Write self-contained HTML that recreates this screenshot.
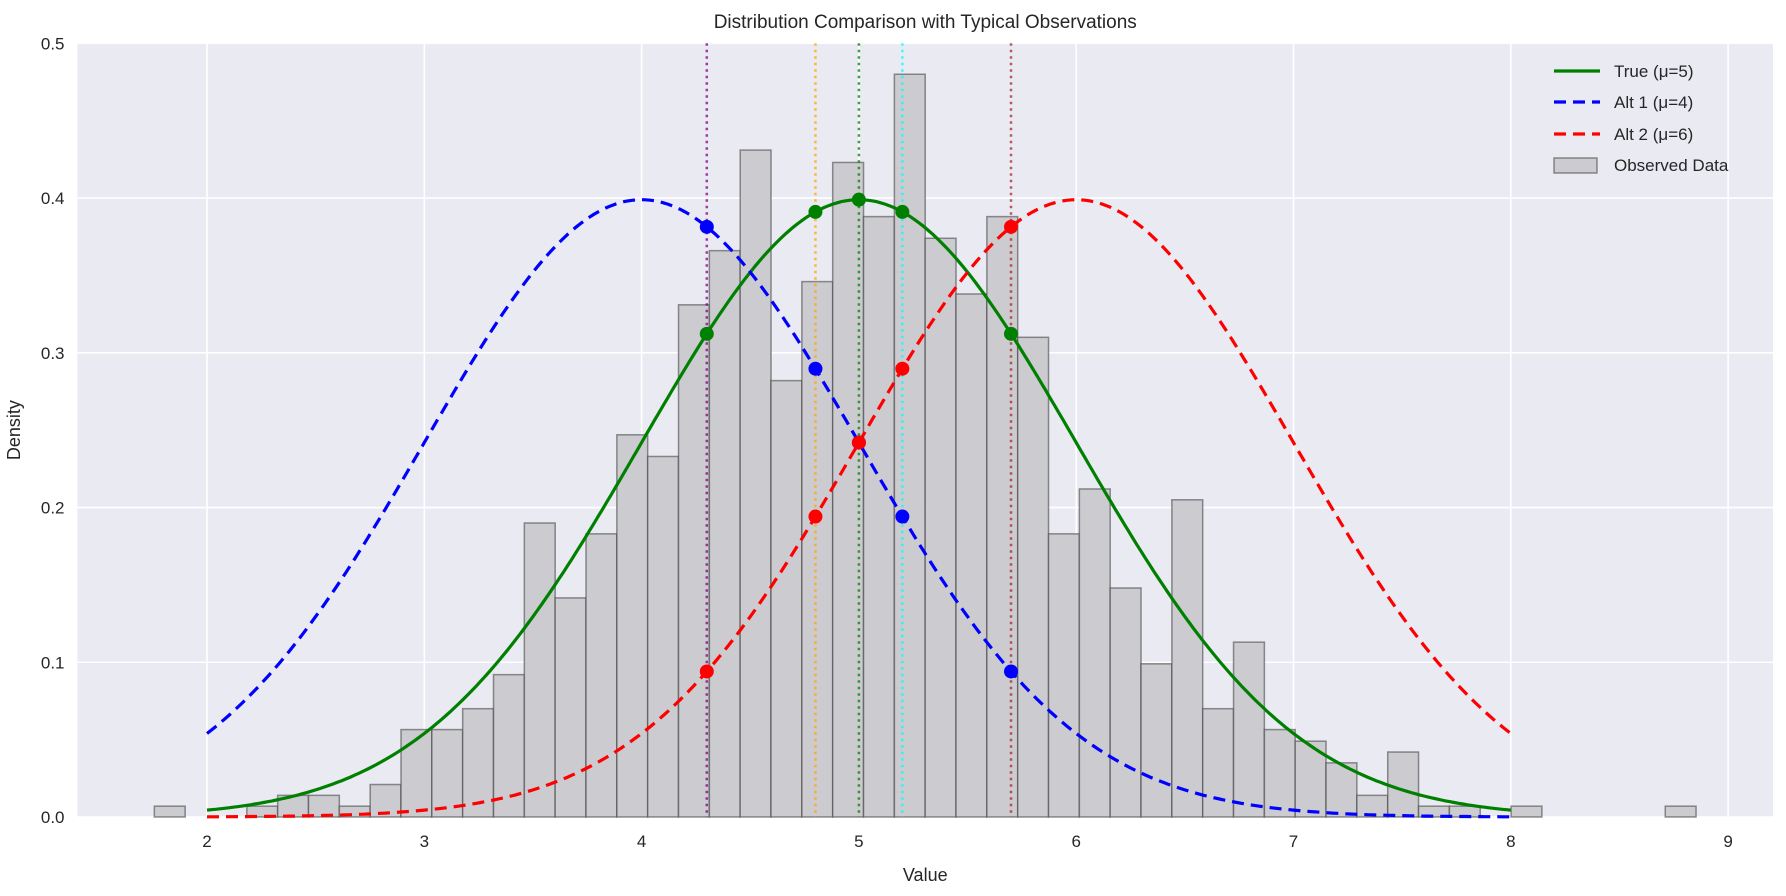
<!DOCTYPE html>
<html><head><meta charset="utf-8"><style>
html,body{margin:0;padding:0;background:#fff;}
svg{display:block;font-family:"Liberation Sans","DejaVu Sans",sans-serif;}
</style></head><body>
<svg id="chart" width="1786" height="896" viewBox="0 0 1786 896" xmlns="http://www.w3.org/2000/svg"></svg>
<script>
const binStart = 1.7576;
const binWidth = 0.1419;
const binDensities = [0.007,0,0,0.007,0.014,0.014,0.007,0.021,0.0565,0.0565,0.070,0.092,0.190,0.1416,0.183,0.247,0.233,0.331,0.366,0.431,0.282,0.346,0.423,0.388,0.480,0.374,0.338,0.388,0.310,0.183,0.212,0.148,0.099,0.205,0.070,0.113,0.0565,0.049,0.035,0.014,0.042,0.007,0.007,0,0.007,0,0,0,0,0.007];
const curveMeans = [5,4,6];
const curveNames = ["True (μ=5)","Alt 1 (μ=4)","Alt 2 (μ=6)"];
const curveColors = ["#008000","#0000ff","#ff0000"];
const curveRange = [2,8];
const observations = [4.3,4.8,5.0,5.2,5.7];
const obsColors = ["#800080","#ffa500","#008000","#00ffff","#a52a2a"];
const xTicks = [2,3,4,5,6,7,8,9];
const yTicks = [0.0,0.1,0.2,0.3,0.4,0.5];

const NS="http://www.w3.org/2000/svg";
const svg=document.getElementById('chart');
const L=77.5,R=1773,T=43.3,B=817;
const X0=207,XU=217.3;
function xs(v){return X0+(v-2)*XU;}
function ys(v){return B-(v/0.5)*(B-T);}
function mk(tag,attrs,parent){const e=document.createElementNS(NS,tag);for(const k in attrs)e.setAttribute(k,attrs[k]);(parent||svg).appendChild(e);return e;}
function pdf(x,m){return Math.exp(-0.5*(x-m)*(x-m))/Math.sqrt(2*Math.PI);}

let bg=mk('rect',{x:L,y:T,width:R-L,height:B-T,fill:'#eaeaf2'});


xTicks.forEach(t=>{
  let g=mk('line',{x1:xs(t),x2:xs(t),y1:T,y2:B,stroke:'#fff','stroke-width':1.6});
  
  
  let tx=mk('text',{x:xs(t),y:B+30,'text-anchor':'middle','font-size':17,fill:'#262626'});
  tx.textContent=t;
  
  
});
yTicks.forEach(t=>{
  let g=mk('line',{x1:L,x2:R,y1:ys(t),y2:ys(t),stroke:'#fff','stroke-width':1.6});
  
  
  let tx=mk('text',{x:L-13,y:ys(t)+6,'text-anchor':'end','font-size':17,fill:'#262626'});
  tx.textContent=t.toFixed(1);
  
  
});
binDensities.forEach((d,i)=>{
  if(d<=0)return;
  const x1=xs(binStart+i*binWidth),x2=xs(binStart+(i+1)*binWidth);
  let r=mk('rect',{x:x1,y:ys(d),width:x2-x1,height:B-ys(d),fill:'#cccbd0',stroke:'rgba(60,60,60,0.55)','stroke-width':1.5});
  
  
});
observations.forEach((o,i)=>{
  let l=mk('line',{x1:xs(o),x2:xs(o),y1:T,y2:B,stroke:obsColors[i],'stroke-width':2.5,'stroke-dasharray':'2.5,4','stroke-opacity':0.75});
  
  
});
curveMeans.forEach((m,ci)=>{
  let pts=[];
  for(let k=0;k<=300;k++){const x=curveRange[0]+(curveRange[1]-curveRange[0])*k/300;pts.push(xs(x).toFixed(1)+','+ys(pdf(x,m)).toFixed(1));}
  let p=mk('polyline',{points:pts.join(' '),fill:'none',stroke:curveColors[ci],'stroke-width':3.2});
  if(ci>0)p.setAttribute('stroke-dasharray','12,7');
  
  
});
curveMeans.forEach((m,ci)=>{
  observations.forEach(o=>{
    let c=mk('circle',{cx:xs(o),cy:ys(pdf(o,m)),r:7,fill:curveColors[ci]});
    
    
  });
});
let title=mk('text',{x:(L+R)/2,y:28,'text-anchor':'middle','font-size':19,fill:'#262626'});
title.textContent='Distribution Comparison with Typical Observations';


let xl=mk('text',{x:(L+R)/2,y:881,'text-anchor':'middle','font-size':18,fill:'#262626'});
xl.textContent='Value';


let yl=mk('text',{x:0,y:0,'text-anchor':'middle','font-size':18,fill:'#262626',transform:'translate(20,'+((T+B)/2)+') rotate(-90)'});
yl.textContent='Density';


const legendRows=[71,102,134,165];
curveNames.forEach((n,i)=>{
  let l=mk('line',{x1:1554,x2:1600,y1:legendRows[i],y2:legendRows[i],stroke:curveColors[i],'stroke-width':3.2});
  if(i>0)l.setAttribute('stroke-dasharray','12,7');
  
  
  let t=mk('text',{x:1614,y:legendRows[i]+6,'font-size':17,fill:'#262626'});
  t.textContent=n;
  
  
});
let lr=mk('rect',{x:1554,y:158,width:43,height:15,fill:'#cccbd0',stroke:'rgba(60,60,60,0.55)','stroke-width':1.5});


let lt=mk('text',{x:1614,y:171,'font-size':17,fill:'#262626'});
lt.textContent='Observed Data';


</script>
</body></html>
